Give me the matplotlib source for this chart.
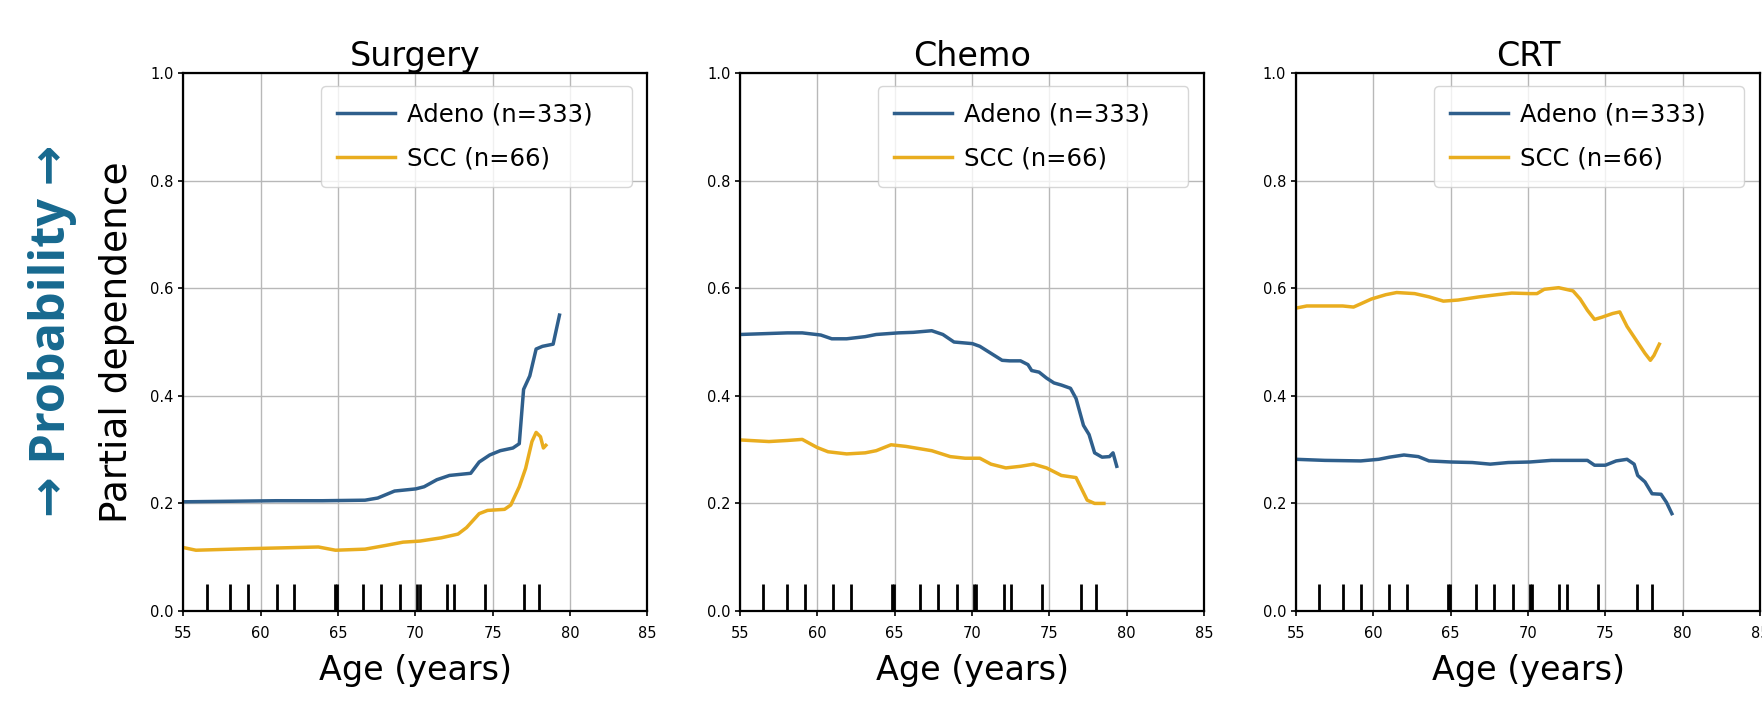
import matplotlib
matplotlib.use("Agg")
import matplotlib.pyplot as plt

panel_titles = ["Surgery", "Chemo", "CRT"]
series_labels = ["Adeno (n=333)", "SCC (n=66)"]
series_colors = ["#2f5f8c", "#e9ad1f"]

# Surgery
surg_adeno_age = [55.0, 58.0, 61.0, 64.0, 66.75, 67.57, 68.66, 70.03, 70.57, 71.39, 72.21, 73.58,
                  74.13, 74.81, 75.49, 76.31, 76.72, 77.0, 77.4, 77.81, 78.22, 78.91, 79.32]
surg_adeno_pd = [0.203, 0.204, 0.205, 0.205, 0.206, 0.21, 0.223, 0.227, 0.231, 0.244, 0.252, 0.256,
                 0.277, 0.29, 0.298, 0.303, 0.311, 0.412, 0.437, 0.487, 0.492, 0.496, 0.55]
surg_scc_age = [55.0, 55.82, 59.37, 63.74, 64.84, 66.75, 68.11, 69.21, 70.3, 71.67, 72.76, 73.31,
                74.13, 74.67, 75.77, 76.17, 76.72, 77.13, 77.54, 77.81, 78.09, 78.28, 78.44]
surg_scc_pd = [0.118, 0.113, 0.116, 0.119, 0.113, 0.115, 0.122, 0.128, 0.130, 0.136, 0.143, 0.155,
               0.181, 0.187, 0.189, 0.197, 0.231, 0.265, 0.315, 0.332, 0.324, 0.303, 0.308]

# Chemo
chemo_adeno_age = [55.0, 58.06, 59.02, 60.22, 60.93, 61.89, 63.09, 63.8, 65.24, 66.2, 67.39, 68.11,
                   68.83, 70.02, 70.5, 71.22, 71.94, 72.42, 73.13, 73.61, 73.85, 74.33, 74.81,
                   75.29, 75.77, 76.36, 76.72, 76.96, 77.2, 77.56, 77.92, 78.4, 78.88, 79.11, 79.35]
chemo_adeno_pd = [0.514, 0.517, 0.517, 0.513, 0.506, 0.506, 0.51, 0.514, 0.517, 0.518, 0.521, 0.514,
                  0.5, 0.497, 0.492, 0.479, 0.466, 0.465, 0.465, 0.458, 0.447, 0.444, 0.433,
                  0.424, 0.42, 0.414, 0.395, 0.37, 0.345, 0.328, 0.294, 0.286, 0.287, 0.294, 0.269]
chemo_scc_age = [55.0, 56.87, 58.06, 59.02, 59.98, 60.69, 61.89, 63.09, 63.8, 64.76, 65.72, 67.39,
                 68.59, 69.55, 70.5, 71.22, 72.18, 73.13, 73.97, 74.81, 75.77, 76.72, 77.08, 77.44,
                 77.92, 78.52]
chemo_scc_pd = [0.318, 0.315, 0.317, 0.319, 0.304, 0.296, 0.292, 0.294, 0.298, 0.309, 0.306, 0.298,
                0.287, 0.284, 0.284, 0.273, 0.266, 0.269, 0.273, 0.266, 0.252, 0.248, 0.227, 0.206,
                0.2, 0.2]

# CRT
crt_adeno_age = [55.0, 56.86, 59.19, 60.35, 61.05, 61.98, 62.91, 63.6, 65.0, 66.4, 67.56, 68.72,
                 70.12, 71.51, 73.84, 74.3, 75.0, 75.7, 76.4, 76.86, 77.09, 77.56, 78.02, 78.6,
                 78.95, 79.3]
crt_adeno_pd = [0.282, 0.28, 0.279, 0.282, 0.286, 0.29, 0.287, 0.279, 0.277, 0.276, 0.273, 0.276,
                0.277, 0.28, 0.28, 0.271, 0.271, 0.279, 0.282, 0.273, 0.252, 0.24, 0.218, 0.217,
                0.202, 0.181]
crt_scc_age = [55.0, 55.7, 56.86, 58.02, 58.72, 59.19, 59.88, 60.81, 61.51, 62.67, 63.6, 64.53,
               65.47, 66.86, 68.02, 68.95, 70.12, 70.58, 71.05, 71.98, 72.91, 73.37, 73.84, 74.3,
               74.77, 75.47, 75.93, 76.4, 76.98, 77.56, 77.91, 78.14, 78.37, 78.49]
crt_scc_pd = [0.563, 0.567, 0.567, 0.567, 0.565, 0.571, 0.58, 0.588, 0.592, 0.59, 0.584, 0.576,
              0.578, 0.584, 0.588, 0.591, 0.59, 0.59, 0.598, 0.601, 0.595, 0.58, 0.559, 0.542,
              0.546, 0.553, 0.556, 0.529, 0.504, 0.479, 0.466, 0.475, 0.489, 0.496]

panel_data = [
    [(surg_adeno_age, surg_adeno_pd), (surg_scc_age, surg_scc_pd)],
    [(chemo_adeno_age, chemo_adeno_pd), (chemo_scc_age, chemo_scc_pd)],
    [(crt_adeno_age, crt_adeno_pd), (crt_scc_age, crt_scc_pd)],
]

# decile marks along the x axis (same in every panel)
age_deciles = [56.51, 58.02, 59.2, 61.04, 62.16, 64.8, 64.95, 66.64, 67.78, 69.01,
               70.1, 70.28, 72.03, 72.5, 74.5, 77.04, 78.01]

x_ticks = [55, 60, 65, 70, 75, 80, 85]
y_ticks = [0.0, 0.2, 0.4, 0.6, 0.8, 1.0]

fig = plt.figure(figsize=(17.62, 7.09), dpi=100)
ax_lefts = [0.1040, 0.4200, 0.7355]

for i, title in enumerate(panel_titles):
    ax = fig.add_axes([ax_lefts[i], 0.1382, 0.2634, 0.7588])
    for (age, pd_vals), label, color in zip(panel_data[i], series_labels, series_colors):
        ax.plot(age, pd_vals, color=color, lw=2.5, label=label)
    ax.vlines(age_deciles, 0, 0.05, color="black", lw=2.0,
              transform=ax.get_xaxis_transform())
    ax.set_xlim(55, 85)
    ax.set_ylim(0, 1)
    ax.set_xticks(x_ticks)
    ax.set_yticks(y_ticks)
    ax.set_xticklabels([str(t) for t in x_ticks])
    ax.set_yticklabels([f"{t:.1f}" for t in y_ticks])
    ax.tick_params(labelsize=10.5, length=3.5, width=1.2)
    ax.tick_params(axis="x", pad=7)
    ax.grid(True, color="#b8b8b8", lw=1.0)
    for sp in ax.spines.values():
        sp.set_linewidth(1.6)
    ax.set_title(title, fontsize=24, pad=5)
    ax.set_xlabel("Age (years)", fontsize=24, labelpad=10)
    # legend box is wider than its text in the original, so stretch it
    ax.legend(loc="upper left", bbox_to_anchor=(0.297, 0.0, 0.669, 0.975), mode="expand",
              borderaxespad=0, fontsize=17.5, handlelength=2.4, handletextpad=0.5,
              labelspacing=0.85, borderpad=0.65)
    if i == 0:
        ax.set_ylabel("Partial dependence", fontsize=27)
        ax.yaxis.set_label_coords(-0.104, 0.5)

fig.text(53 / 1762, 1 - 331 / 709, "\u2192 Probability \u2192", rotation=90,
         ha="center", va="center", fontsize=35, fontweight="bold", color="#17698f",
         family=["Open Sans", "DejaVu Sans"])

fig.savefig("out.png", dpi=100)
